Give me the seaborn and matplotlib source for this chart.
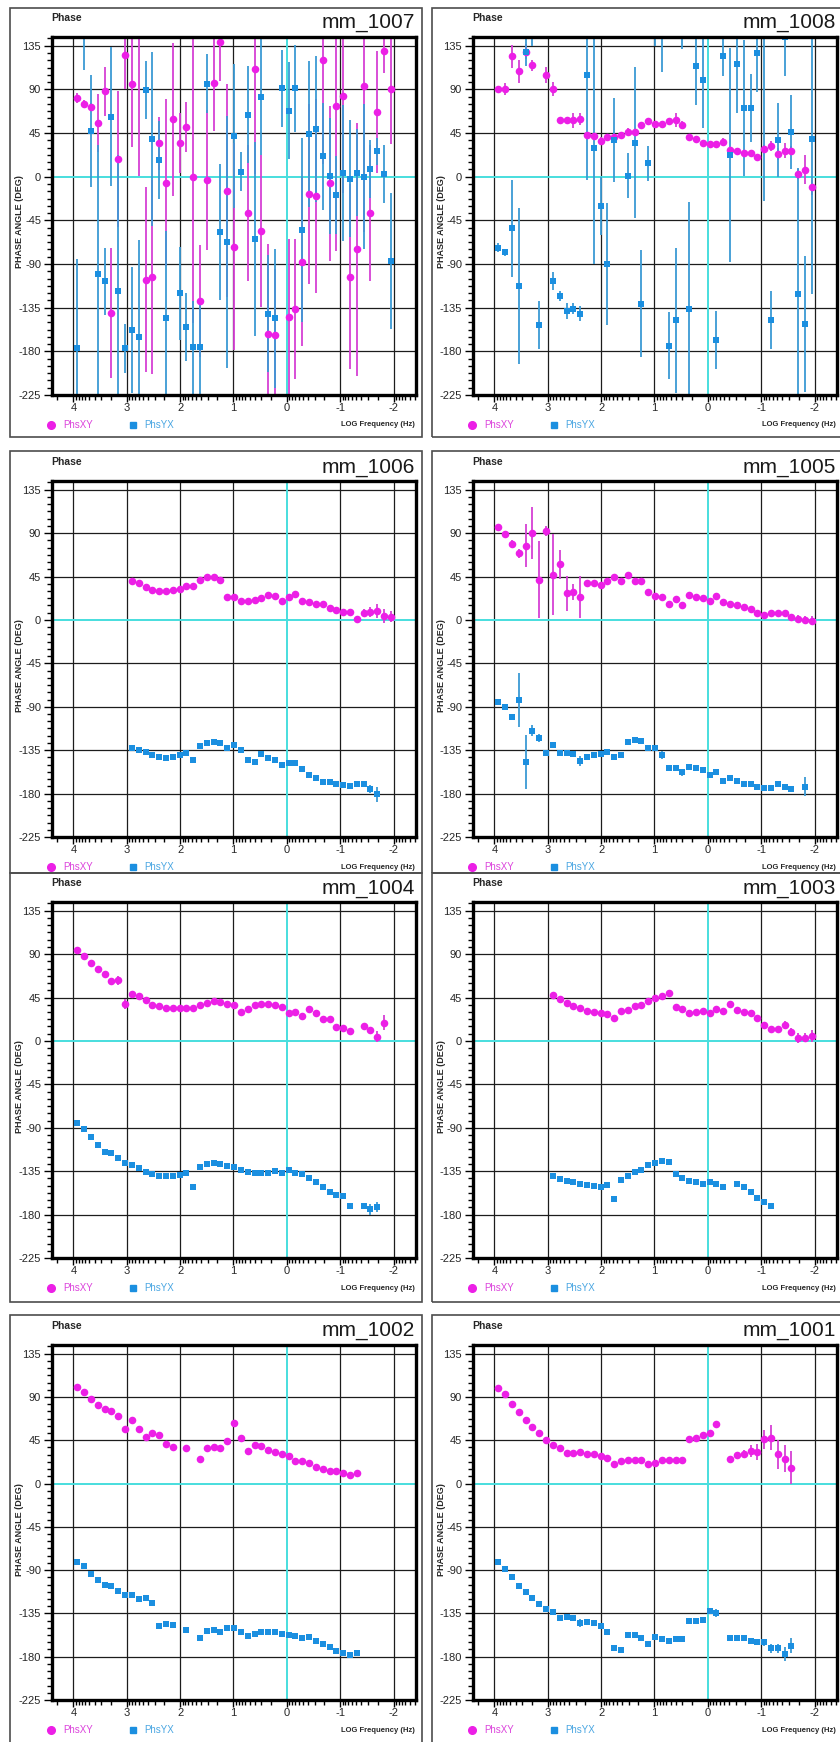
import numpy as np
import pandas as pd
import matplotlib
matplotlib.use("Agg")
import matplotlib.pyplot as plt
import seaborn as sns
from matplotlib.patches import Rectangle
from matplotlib.lines import Line2D
from matplotlib.ticker import FixedLocator

sns.set_style("white")
plt.rcParams["font.family"] = ["Liberation Sans", "DejaVu Sans"]

nan = np.nan

# log10 of the sounding frequencies (Hz), shared by all stations
log_freq = [3.925, 3.797, 3.670, 3.542, 3.414, 3.286, 3.159, 3.031, 2.903, 2.775,
            2.648, 2.520, 2.392, 2.265, 2.137, 2.009, 1.881, 1.754, 1.626, 1.498,
            1.371, 1.243, 1.115, 0.987, 0.860, 0.732, 0.604, 0.477, 0.349, 0.221,
            0.093, -0.034, -0.162, -0.290, -0.417, -0.545, -0.673, -0.801, -0.928, -1.056,
            -1.184, -1.312, -1.439, -1.567, -1.695, -1.822, -1.950]

# ---- mm_1007 ----
xy_1007 = [81, 75, 72, 55, 88, -140.5, 18, 125.7, 95.8, 150, -106, -103, 34.4, -6, 59, 35,
           51, -0.7, -128, -3.4, 97, 139, -14.5, -72, nan, -37, 111, -56, -162, -163, nan,
           -144.7, -136, -87.5, -18, -19.6, 120, -7, 73, 83, -103, -75, 93, -37, 67, 130, 90]
xy_1007_err = [5, 4, 4, 30, 25, 67, 70, 35, 65, 149, 95, 100, 27, 86, 79, 31, 26, 150, 58,
               72, 50, 40, 110, 107, nan, 70, 108, 78, 93, 68, nan, 80, 72, 87, 93, 100, 107,
               80, 150, 100, 95, 130, 150, 70, 63, 23, 56]
yx_1007 = [-177, 160, 47, -100, -108, 62, -118, -177, -158, -165, 89, 39, 17, -146, nan,
           -120, -155, -176, -176, 96, nan, -57, -67, 42, 5, 64, -64, 82, -141, -146, 91,
           68, 91, -55, 44, 49, 21, 1, -19, 4, -2, 4, 0, 8, 26, 3, -87]
yx_1007_err = [92, 50, 58, 133, 35, 72, 140, 25, 65, 100, 30, 90, 40, 90, nan, 48, 35, 48,
               50, 30, nan, 70, 130, 74, 20, 50, 100, 60, 60, 72, 40, 50, 45, 95, 75, 75,
               55, 60, 40, 70, 60, 45, 75, 30, 14, 30, 70]

# ---- mm_1008 ----
xy_1008 = [90.6, 90.6, 124, 108.5, 129, 114.7, nan, 105, 90.6, 58, 58, 58, 59.6, 43, 42,
           37, 40.6, 41, 43, 46.5, 46.5, 53, 57, 54.4, 54.4, 57, 58.6, 53, 40.6, 39, 35,
           33.8, 33.8, 36, 28, 27, 24.5, 24.5, 20, 29, 32, 23.4, 27, 27, 2.8, 7, -11]
xy_1008_err = [3, 6, 12, 12, 8, 6, nan, 8, 7, 3, 3, 8, 6, 3, 3, 4, 3, 3, 3, 4, 3, 3, 3, 3,
               3, 3, 7, 4, 3, 3, 3, 3, 3, 4, 3, 3, 3, 3, 3, 4, 5, 6, 8, 5, 5, 15, 8]
yx_1008 = [-73, -78, -53, -112.6, 129, 155, -153, nan, -107.5, -123, -138.5, -136, -141,
           105, 29.6, -30, -89.6, 38, nan, 1, 35, -131, 14, 145, 150, -174, -148, 150,
           -136, 114, 100, nan, -168, 124, 22.4, 116, 70.6, 70.6, 127, 150, -148, 38, 144,
           46, -121, -152, 39]
yx_1008_err = [5, 4, 50, 80, 15, 20, 25, nan, 9, 5, 8, 6, 8, 108, 120, 30, 63, 43, nan, 23,
               78, 55, 18, 10, 42, 35, 75, 18, 110, 40, 50, nan, 30, 20, 110, 50, 70, 35,
               40, 175, 30, 38, 40, 38, 130, 70, 160]

# ---- mm_1006 ----
xy_1006 = [nan] * 8 + [40.4, 38, 34.5, 31, 30, 30, 31, 32.5, 35, 35, 41.5, 44, 45, 41, 24,
                       24, 19.7, 20, 20.7, 22.5, 26, 25, 20, 24, 27, 20, 19, 17, 16, 12,
                       10.4, 8.6, 8, 1, 7.6, 8.3, 9.3, 4, 3.5]
xy_1006_err = [nan] * 8 + [1.5, 1.5, 1.5, 1.5, 1.5, 1.5, 1.5, 1.5, 1.5, 1.5, 1.5, 1.5, 1.5,
                           1.5, 1.5, 1.5, 1.5, 1.5, 1.5, 1.5, 1.5, 1.5, 1.5, 1.5, 1.5, 1.5,
                           1.5, 1.5, 1.5, 1.5, 1.5, 1.5, 2, 2, 4, 5, 7, 7, 6]
yx_1006 = [nan] * 8 + [-133, -135, -137, -140, -141.7, -143, -142, -140, -137.5, -145,
                       -130.6, -128, -127, -128, -133, -129.6, -134.8, -145, -146.9, -139,
                       -142.7, -145, -150, -148, -148.6, -154.8, -160.7, -164, -167.6,
                       -167.6, -170, -171, -171.7, -170, -170, -175.6, -180.7] + [nan] * 2
yx_1006_err = [nan] * 8 + [1.5, 1.5, 1.5, 1.5, 1.5, 1.5, 1.5, 1.5, 1.5, 1.5, 1.5, 1.5, 1.5,
                           1.5, 1.5, 1.5, 1.5, 1.5, 1.5, 1.5, 1.5, 1.5, 1.5, 1.5, 1.5, 1.5,
                           1.5, 1.5, 1.5, 1.5, 1.5, 1.5, 2, 2, 2, 4, 8] + [nan] * 2

# ---- mm_1005 ----
xy_1005 = [96, 88.8, 78.4, 69, 77, 90.5, 41.5, 92, 46.6, 57.7, 27.6, 29, 23.5, 38.7, 38.7,
           36, 40.4, 44, 40.4, 46.6, 40.8, 40.8, 29, 25, 23.5, 16.6, 21.8, 15.5, 26, 24, 23,
           19.7, 25, 18.7, 16.6, 15, 13, 11, 7, 5, 7, 7, 7, 3.5, 0.7, 0, -0.7]
xy_1005_err = [3, 2, 4, 5, 22, 27, 40, 5, 42, 15, 18, 8, 22, 2, 2, 3, 2, 2, 2, 3, 2, 2, 2,
               2, 2, 2, 2, 2, 2, 2, 2, 2, 2, 2, 2, 2, 2, 2, 2, 2, 2, 2, 2, 3, 4, 4, 5]
yx_1005 = [-84.7, -90.5, -101, -83, -147, -114.7, -122.7, -138, -129.6, -138, -138, -139,
           -146, -141.7, -140, -139, -136.5, -141.7, -140, -127, -124.4, -125, -133, -133,
           -140, -153, -153.8, -158, -152.7, -153, -156, -160.7, -158, -166.5, -164,
           -166.9, -170, -170, -172.8, -173.8, -173.8, -170, -173.5, -175, nan, -172.8, nan]
yx_1005_err = [3, 2, 3, 28, 28, 6, 4, 2, 2, 2, 2, 2, 5, 2, 2, 2, 2, 2, 2, 2, 2, 2, 2, 2, 4,
               2, 2, 4, 2, 2, 2, 2, 2, 2, 2, 2, 2, 2, 2, 2, 2, 2, 2, 3, nan, 10, nan]

# ---- mm_1004 ----
xy_1004 = [94.7, 88.5, 81, 74.8, 69.6, 62, 62.7, 38.6, 49, 46.5, 42.4, 37.2, 36, 33.8,
           33.8, 33.8, 34.4, 33.8, 37.2, 39.6, 41.3, 40.3, 38.6, 36.9, 30.3, 32.7, 37.2,
           37.9, 37.9, 36.9, 35, 28.6, 30.3, 25.8, 33.4, 29.3, 23, 23, 14.8, 13.8, 10.3,
           nan, 15.5, 11, 4.5, 19, nan]
xy_1004_err = [1.5, 1.5, 1.5, 1.5, 1.5, 1.5, 5, 5, 1.5, 1.5, 1.5, 3, 1.5, 1.5, 1.5, 1.5,
               1.5, 1.5, 1.5, 1.5, 1.5, 1.5, 1.5, 1.5, 1.5, 1.5, 1.5, 1.5, 1.5, 1.5, 1.5,
               1.5, 1.5, 1.5, 1.5, 1.5, 1.5, 1.5, 1.5, 1.5, 1.5, nan, 2, 2, 6, 8, nan]
yx_1004 = [-85.4, -91.3, -100, -107.5, -114.7, -116.4, -121.6, -126.4, -128.5, -132, -136,
           -137.8, -140.5, -140.5, -140.5, -138.8, -137, -150.9, -130.9, -127.5, -126.4,
           -127.5, -129.9, -130.9, -133.3, -135.4, -136.8, -136.8, -136.8, -135, -136.8,
           -134.3, -136.8, -137.8, -142.3, -146.4, -150.9, -156.7, -160.2, -160.9, -171.2,
           nan, -171.2, -174.6, -172.2, nan, nan]
yx_1004_err = [1.5, 1.5, 1.5, 1.5, 1.5, 1.5, 1.5, 1.5, 1.5, 1.5, 1.5, 1.5, 1.5, 1.5, 1.5,
               1.5, 1.5, 1.5, 1.5, 1.5, 1.5, 1.5, 1.5, 1.5, 1.5, 1.5, 1.5, 1.5, 1.5, 1.5,
               1.5, 1.5, 1.5, 1.5, 1.5, 1.5, 1.5, 1.5, 1.5, 1.5, 2, nan, 2, 6, 5, nan, nan]

# ---- mm_1003 ----
xy_1003 = [nan] * 8 + [47.2, 43, 39, 36, 33.8, 31, 30.3, 28.6, 28.2, 24, 31, 32, 36, 37.2,
                       41.3, 44.8, 46.5, 50, 35, 32.7, 28.6, 30, 31, 29.3, 32.7, 31, 37.9,
                       32, 30.3, 28.6, 24, 16.2, 12, 12, 16.2, 9.3, 2.8, 3.4, 5.2]
xy_1003_err = [nan] * 8 + [1.5, 1.5, 1.5, 1.5, 1.5, 1.5, 1.5, 1.5, 1.5, 1.5, 1.5, 1.5, 1.5,
                           1.5, 1.5, 1.5, 1.5, 1.5, 1.5, 1.5, 1.5, 1.5, 1.5, 1.5, 1.5, 1.5,
                           1.5, 1.5, 1.5, 1.5, 1.5, 2, 3, 3, 4, 4, 5, 5, 6]
yx_1003 = [nan] * 8 + [-139.5, -143, -145.4, -146.4, -148, -149, -150.5, -150.9, -149.8,
                       -163.6, -144, -139.5, -136, -133.3, -128.5, -126.4, -124, -125.7,
                       -137.8, -142.3, -145.7, -146.4, -148, -146.4, -148, -150.9, nan,
                       -148, -151.6, -156.7, -163, -167, -171.2] + [nan] * 6
yx_1003_err = [nan] * 8 + [1.5] * 33 + [nan] * 6

# ---- mm_1002 ----
xy_1002 = [100.7, 95.2, 87.6, 81.3, 77.9, 75.5, 70.3, 57.1, 66, 57.1, 48.8, 53, 50.2, 40.8,
           38, nan, 36.7, nan, 26, 36.7, 38, 37, 44.6, 62.6, 47.4, 34, 39.8, 39.5, 35.3,
           33.2, 30.8, 29, 23.2, 23.9, 21.1, 17.6, 15, 12.8, 12.8, 10.7, 8.7, 11.4,
           nan, nan, nan, nan, nan]
xy_1002_err = [1.5] * 42 + [nan] * 5
yx_1002 = [-81.3, -85.5, -94.1, -100.4, -105.2, -107, -111.5, -115.6, -115.6, -120.1,
           -119.1, -124.6, -148.5, -146.1, -147.1, nan, -152.3, nan, -161, -153.7, -152.3,
           -154.7, -150.6, -150.2, -154.7, -158.9, -156.5, -154.7, -154.7, -154.7, -156.5,
           -157.5, -158.9, -161, -159.2, -163.4, -166.8, -170.3, -173.8, -176.2, -177.9,
           -176.2, nan, nan, nan, nan, nan]
yx_1002_err = [1.5] * 42 + [nan] * 5

# ---- mm_1001 ----
xy_1001 = [99.7, 93.5, 83, 74.8, 66, 58.8, 52.3, 45.3, 40.2, 36.7, 31.5, 31.5, 33.2, 30.5,
           30.5, 28.7, 27, 20, 23.5, 24.2, 24.6, 24.6, 20, 21.8, 24.2, 24.2, 24.2, 24.2,
           46, 47.8, 50.2, 53, 62.3, nan, 25.3, 29.4, 30.5, 33.9, 32.9, 46, 47.8, 30.5, 26,
           16.6, nan, nan, nan]
xy_1001_err = [1.5, 1.5, 1.5, 1.5, 1.5, 1.5, 1.5, 1.5, 1.5, 1.5, 1.5, 1.5, 1.5, 1.5, 1.5,
               1.5, 1.5, 1.5, 1.5, 1.5, 1.5, 1.5, 1.5, 1.5, 1.5, 1.5, 1.5, 1.5, 1.5, 1.5,
               1.5, 1.5, 3, nan, 2, 3, 4, 6, 8, 10, 13, 15, 14, 17, nan, nan, nan]
yx_1001 = [-81.3, -89, -97.6, -106.3, -113.2, -119.4, -125.3, -130.5, -134, -139.8, -139.2,
           -140.2, -145, -143.6, -145, -148.5, -154.7, -171.3, -172.7, -157.5, -157.5, -161,
           -166.8, -159.9, -161.6, -163.4, -161.6, -161.6, -142.6, -142.6, -141.6, -132.2,
           -134.6, nan, -161, -161, -161, -163.4, -165.1, -165.1, -171.3, -171.3, -177.2,
           -168.6, nan, nan, nan]
yx_1001_err = [1.5, 1.5, 1.5, 1.5, 1.5, 1.5, 1.5, 1.5, 1.5, 1.5, 1.5, 1.5, 4, 1.5, 1.5,
               1.5, 1.5, 1.5, 1.5, 1.5, 1.5, 1.5, 1.5, 1.5, 1.5, 1.5, 1.5, 1.5, 1.5, 1.5,
               1.5, 1.5, 4, nan, 2, 2, 2, 2, 2, 4, 5, 5, 7, 8, nan, nan, nan]

# station name, column, row and its four series
panels = [
    ("mm_1007", 0, 0, xy_1007, xy_1007_err, yx_1007, yx_1007_err),
    ("mm_1008", 1, 0, xy_1008, xy_1008_err, yx_1008, yx_1008_err),
    ("mm_1006", 0, 1, xy_1006, xy_1006_err, yx_1006, yx_1006_err),
    ("mm_1005", 1, 1, xy_1005, xy_1005_err, yx_1005, yx_1005_err),
    ("mm_1004", 0, 2, xy_1004, xy_1004_err, yx_1004, yx_1004_err),
    ("mm_1003", 1, 2, xy_1003, xy_1003_err, yx_1003, yx_1003_err),
    ("mm_1002", 0, 3, xy_1002, xy_1002_err, yx_1002, yx_1002_err),
    ("mm_1001", 1, 3, xy_1001, xy_1001_err, yx_1001, yx_1001_err),
]

y_major = [-225, -180, -135, -90, -45, 0, 45, 90, 135]
x_major = [4, 3, 2, 1, 0, -1, -2]
x_labels = ["4", "3", "2", "1", "0", "-1", "-2"]
y_labels = ["-225", "-180", "-135", "-90", "-45", "0", "45", "90", "135"]

MAG = "#ec1fe6"
MAG_BAR = "#d640d4"
MAG_TEXT = "#dc44dc"
BLUE = "#1b8fe0"
BLUE_BAR = "#3a9ad4"
BLUE_TEXT = "#4aa6e2"
GRID = "#1c1c1c"
CYAN = "#48dede"
BOX = "#4d4d4d"

FIG_W, FIG_H = 840, 1742
fig = plt.figure(figsize=(FIG_W / 100, FIG_H / 100), dpi=100)
fig.patch.set_facecolor("white")


def fx(px):
    return px / FIG_W


def fy(py):
    return 1 - py / FIG_H


col_left = [52, 473]
col_right = [416, 837]
box_left = [10, 432]
box_right = [422, 846]
row_top = [37, 481, 902, 1345]
row_bottom = [395, 837, 1258, 1700]
box_top = [8, 451, 873, 1315]
box_bottom = [437, 873, 1302, 1760]

x_minor = [n + np.log10(k) for n in range(-3, 5) for k in range(2, 10)]
y_minor = np.arange(-225, 144, 7.5)


def draw_panel(station, col, row, xy, xy_err, yx, yx_err):
    L, R = col_left[col], col_right[col]
    T, B = row_top[row], row_bottom[row]

    fig.add_artist(Rectangle((fx(box_left[col]), fy(box_bottom[row])),
                             fx(box_right[col]) - fx(box_left[col]),
                             fy(box_top[row]) - fy(box_bottom[row]),
                             transform=fig.transFigure, fill=False, ec=BOX, lw=1.2,
                             zorder=0))

    ax = fig.add_axes([fx(L), fy(B), fx(R) - fx(L), fy(T) - fy(B)])
    ax.set_facecolor("white")
    ax.set_xlim(4.4, -2.42)
    ax.set_ylim(-225, 144)

    for v in x_major:
        if v != 0:
            ax.axvline(v, color=GRID, lw=0.9, zorder=1)
    for v in y_major[1:]:
        if v != 0:
            ax.axhline(v, color=GRID, lw=0.9, zorder=1)
    ax.axvline(0, color=CYAN, lw=1.4, zorder=1.2)
    ax.axhline(0, color=CYAN, lw=1.4, zorder=1.2)

    n = len(log_freq)
    df = pd.DataFrame({
        "log_freq": log_freq * 2,
        "phase": xy + yx,
        "err": xy_err + yx_err,
        "component": ["PhsXY"] * n + ["PhsYX"] * n,
    }).dropna(subset=["phase"])
    df["err"] = df["err"].fillna(0)

    for comp, bar_color in (("PhsXY", MAG_BAR), ("PhsYX", BLUE_BAR)):
        sub = df[df["component"] == comp]
        ax.vlines(sub["log_freq"], sub["phase"] - sub["err"], sub["phase"] + sub["err"],
                  colors=bar_color, lw=1.3, zorder=2)

    sns.scatterplot(data=df[df["component"] == "PhsXY"], x="log_freq", y="phase",
                    color=MAG, marker="o", s=30, linewidth=0, ax=ax, zorder=3,
                    legend=False)
    sns.scatterplot(data=df[df["component"] == "PhsYX"], x="log_freq", y="phase",
                    color=BLUE, marker="s", s=23, linewidth=0, ax=ax, zorder=3,
                    legend=False)
    ax.set_xlabel("")
    ax.set_ylabel("")

    ax.xaxis.set_major_locator(FixedLocator(x_major))
    ax.set_xticklabels(x_labels)
    ax.xaxis.set_minor_locator(FixedLocator(x_minor))
    ax.yaxis.set_major_locator(FixedLocator(y_major))
    ax.set_yticklabels(y_labels)
    ax.yaxis.set_minor_locator(FixedLocator(y_minor))
    ax.tick_params(which="both", direction="out", color="black", width=1.0,
                   bottom=True, left=True, top=False, right=False)
    ax.tick_params(axis="y", which="major", length=6, pad=1.8, labelsize=8)
    ax.tick_params(axis="y", which="minor", length=3.4)
    ax.tick_params(axis="x", which="major", length=4.7, pad=0.8, labelsize=8)
    ax.tick_params(axis="x", which="minor", length=3.4)
    for spine in ax.spines.values():
        spine.set_visible(True)
        spine.set_color("black")
        spine.set_linewidth(2.4)
        spine.set_zorder(4)

    fig.text(fx(L - 1), fy(T - 19), "Phase", fontsize=7.5, fontweight="bold",
             ha="left", va="center")
    fig.text(fx(R - 1), fy(T - 14), station, fontsize=15, color="#1a1a1a",
             ha="right", va="center")
    fig.text(fx(L - 32), fy(T + 185), "PHASE ANGLE (DEG)", rotation=90, fontsize=6.5,
             fontweight="bold", ha="center", va="center")

    leg_y = B + 30
    fig.add_artist(Line2D([fx(L - 1)], [fy(leg_y)], marker="o", ms=5.5, color=MAG,
                          mec=MAG, ls="none", transform=fig.transFigure))
    fig.text(fx(L + 11), fy(leg_y), "PhsXY", color=MAG_TEXT, fontsize=7,
             ha="left", va="center")
    fig.add_artist(Line2D([fx(L + 81)], [fy(leg_y)], marker="s", ms=4.5, color=BLUE,
                          mec=BLUE, ls="none", transform=fig.transFigure))
    fig.text(fx(L + 92), fy(leg_y), "PhsYX", color=BLUE_TEXT, fontsize=7,
             ha="left", va="center")
    fig.text(fx(R - 1), fy(leg_y), "LOG Frequency (Hz)", fontsize=5.5,
             fontweight="bold", ha="right", va="center")


for p in panels:
    draw_panel(*p)

fig.savefig("out.png", dpi=100, facecolor="white")
